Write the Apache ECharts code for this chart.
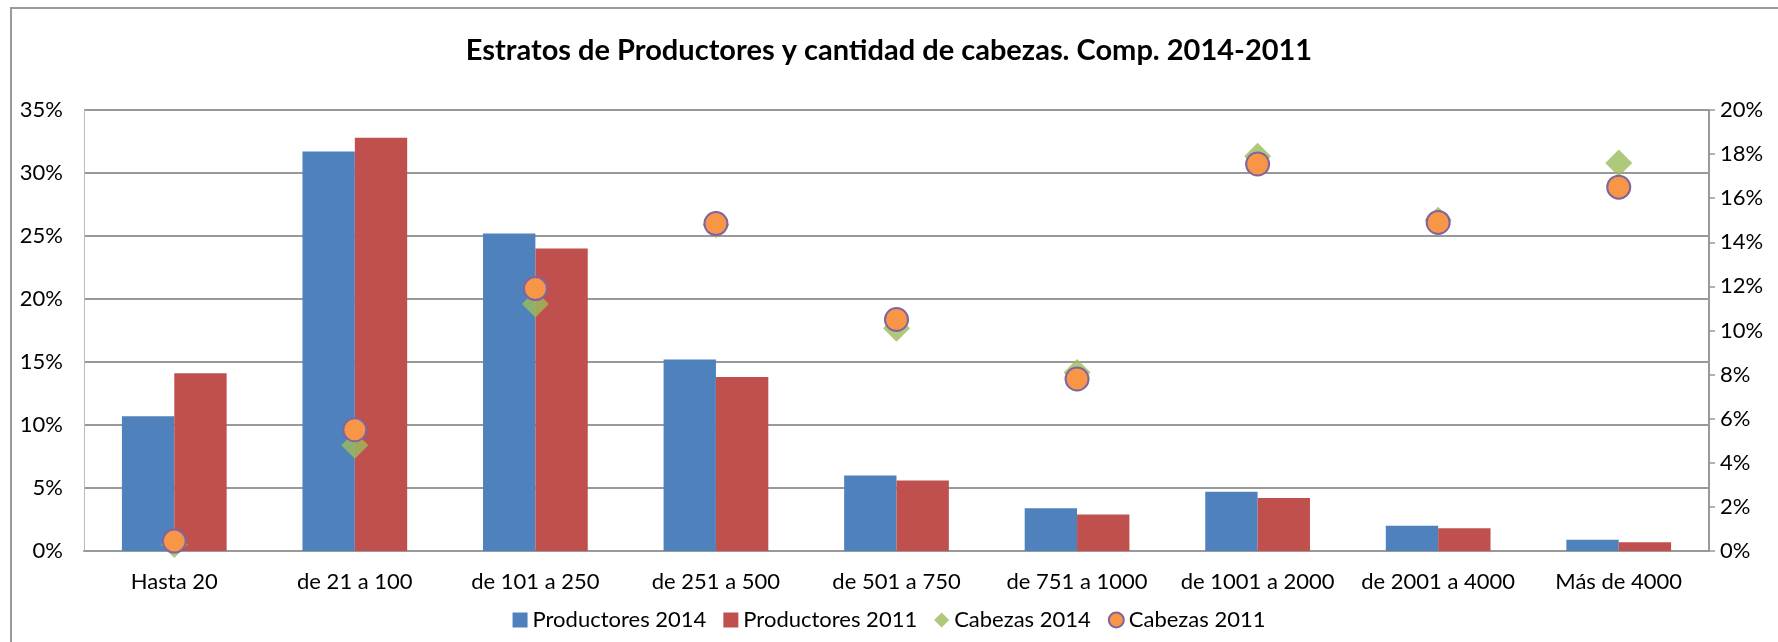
<!DOCTYPE html>
<html>
	<head>
		<meta charset="utf-8">
		<title>Estratos de Productores</title>
		<style type="text/css">
			* {
				margin: 0;
				padding: 0;
			}

			html,
			body {
				width: 1778px;
				height: 642px;
				background: #fff;
				overflow: hidden;
			}

			.marco {
				position: absolute;
				left: 10px;
				top: 7px;
				width: 1800px;
				height: 700px;
				border-left: 2px solid #9a9a9a;
				border-top: 2px solid #9a9a9a;
			}

			#box1 {
				position: absolute;
				left: 0;
				top: 0;
				width: 1778px;
				height: 642px;
			}
		</style>
	</head>
	<body>
		<div class="marco"></div>
		<div id="box1"></div>
		<script type="text/javascript" src="https://cdn.jsdelivr.net/npm/echarts@6/dist/echarts.min.js"></script>
		<script type="text/javascript">
			// categorias y valores (en %)
			var estratos = ['Hasta 20', 'de 21 a 100', 'de 101 a 250', 'de 251 a 500', 'de 501 a 750',
				'de 751 a 1000', 'de 1001 a 2000', 'de 2001 a 4000', 'Más de 4000']
			var productores2014 = [10.7, 31.7, 25.2, 15.2, 6.0, 3.4, 4.7, 2.0, 0.9]
			var productores2011 = [14.1, 32.8, 24.0, 13.8, 5.6, 2.9, 4.2, 1.8, 0.7]
			var cabezas2014 = [0.3, 4.8, 11.2, 14.8, 10.1, 8.1, 17.9, 15.0, 17.6]
			var cabezas2011 = [0.45, 5.5, 11.9, 14.85, 10.5, 7.8, 17.55, 14.9, 16.5]

			var fuente = 'Lato'

			window.onload = function() {
				charts1()
			}

			function charts1() {
				var myChart1 = echarts.init(document.getElementById('box1'));
				option1 = {
					animation: false,
					textStyle: {
						fontFamily: fuente
					},
					title: {
						text: 'Estratos de Productores y cantidad de cabezas. Comp. 2014-2011',
						left: 'center',
						top: 31,
						textStyle: {
							fontFamily: fuente,
							fontWeight: 'bold',
							fontSize: 29,
							color: '#000'
						}
					},
					grid: {
						left: 84,
						right: 69,
						top: 110,
						bottom: 91
					},
					legend: {
						bottom: 6,
						left: 'center',
						itemWidth: 15,
						itemHeight: 15,
						itemGap: 17,
						textStyle: {
							fontFamily: fuente,
							fontSize: 22,
							color: '#000'
						},
						data: [
							{name: 'Productores 2014', icon: 'rect'},
							{name: 'Productores 2011', icon: 'rect'},
							{name: 'Cabezas 2014', icon: 'diamond'},
							{name: 'Cabezas 2011', icon: 'circle'}
						]
					},
					xAxis: [{
						type: 'category',
						data: estratos,
						axisTick: {
							show: false
						},
						axisLine: {
							lineStyle: {
								color: '#999',
								width: 2
							}
						},
						axisLabel: {
							interval: 0,
							margin: 20,
							fontSize: 22,
							color: '#000'
						}
					}],
					yAxis: [{
						type: 'value',
						min: 0,
						max: 35,
						interval: 5,
						axisLine: {
							show: true,
							lineStyle: {
								color: '#bbb',
								width: 1
							}
						},
						axisTick: {
							show: false
						},
						splitLine: {
							lineStyle: {
								color: '#999',
								width: 2
							}
						},
						axisLabel: {
							formatter: '{value}%',
							margin: 21,
							fontSize: 22,
							color: '#000'
						}
					}, {
						type: 'value',
						min: 0,
						max: 20,
						interval: 2,
						axisLine: {
							show: true,
							lineStyle: {
								color: '#999',
								width: 2
							}
						},
						axisTick: {
							show: true,
							length: 6,
							lineStyle: {
								color: '#999',
								width: 1.5
							}
						},
						splitLine: {
							show: false
						},
						axisLabel: {
							formatter: '{value}%',
							margin: 11,
							fontSize: 22,
							color: '#000'
						}
					}],
					series: [{
						name: 'Productores 2014',
						type: 'bar',
						data: productores2014,
						barGap: '0%',
						barCategoryGap: '42%',
						itemStyle: {
							color: '#4f81bd'
						}
					}, {
						name: 'Productores 2011',
						type: 'bar',
						data: productores2011,
						itemStyle: {
							color: '#c0504d'
						}
					}, {
						name: 'Cabezas 2014',
						type: 'scatter',
						yAxisIndex: 1,
						symbol: 'diamond',
						symbolSize: 27,
						data: cabezas2014,
						itemStyle: {
							color: '#9bbb59'
						}
					}, {
						name: 'Cabezas 2011',
						type: 'scatter',
						yAxisIndex: 1,
						symbol: 'circle',
						symbolSize: 23,
						data: cabezas2011,
						itemStyle: {
							color: '#f79646',
							borderColor: '#8064a2',
							borderWidth: 2,
							opacity: 1
						}
					}]
				};
				myChart1.setOption(option1);
			}
		</script>
	</body>
</html>
